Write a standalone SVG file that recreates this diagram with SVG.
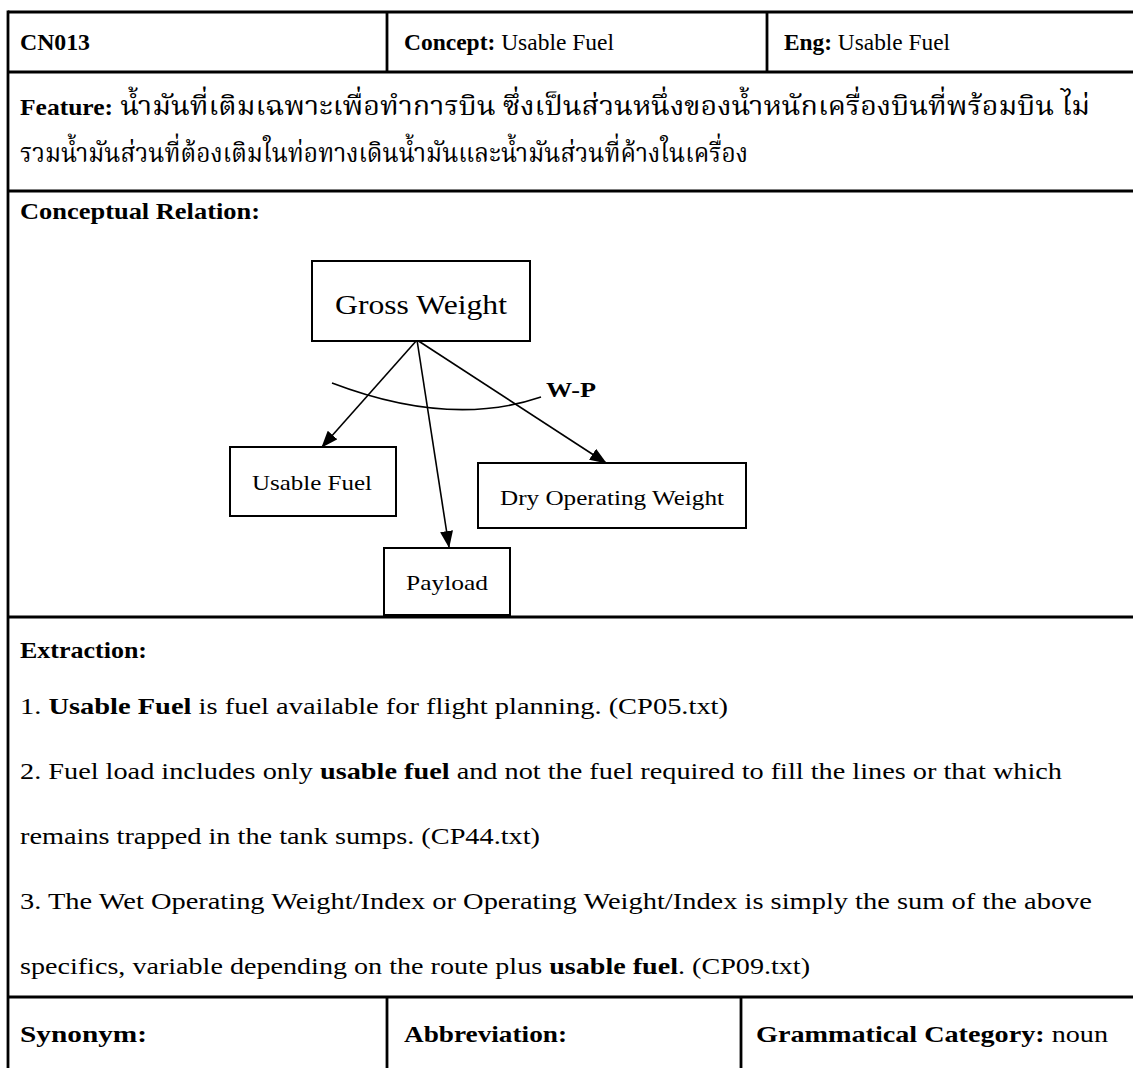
<svg xmlns="http://www.w3.org/2000/svg" width="1133" height="1068" viewBox="0 0 1133 1068">
  <style>
    .t { font-family: "Liberation Serif", "Times New Roman", Tinos, serif; font-size: 24px; fill: #000; }
    .th { font-family: "Liberation Serif", "Noto Serif Thai", "Noto Sans Thai", "Tlwg Typo", "Garuda", serif; font-size: 27px; fill: #000; }
    .b { font-weight: bold; }
    .rule { stroke: #000; stroke-width: 2.8; fill: none; }
    .box { fill: #fff; stroke: #000; stroke-width: 2; }
    .lbl { font-family: "Liberation Serif", "Times New Roman", Tinos, serif; fill: #000; text-anchor: middle; }
    .edge { stroke: #000; stroke-width: 1.6; fill: none; }
  </style>
  <defs>
    <marker id="arrow" markerUnits="userSpaceOnUse" markerWidth="17" markerHeight="13" refX="16" refY="6.5" orient="auto">
      <path d="M0,0 L17,6.5 L0,13 z" fill="#000"/>
    </marker>
  </defs>

  <rect width="1133" height="1068" fill="#fff"/>

  <!-- table frame -->
  <g id="table">
    <line class="rule" x1="8" y1="12" x2="1133" y2="12"/>
    <line class="rule" x1="8" y1="72" x2="1133" y2="72"/>
    <line class="rule" x1="8" y1="191" x2="1133" y2="191"/>
    <line class="rule" x1="8" y1="617" x2="1133" y2="617"/>
    <line class="rule" x1="8" y1="997" x2="1133" y2="997"/>
    <line class="rule" x1="8" y1="10.6" x2="8" y2="1068"/>
    <line class="rule" x1="387" y1="12" x2="387" y2="72"/>
    <line class="rule" x1="767" y1="12" x2="767" y2="72"/>
    <line class="rule" x1="387" y1="997" x2="387" y2="1068"/>
    <line class="rule" x1="741" y1="997" x2="741" y2="1068"/>
  </g>

  <!-- header row -->
  <g id="header">
    <text class="t b" x="20" y="50" textLength="70" lengthAdjust="spacingAndGlyphs">CN013</text>
    <text class="t" x="404" y="50" textLength="210" lengthAdjust="spacingAndGlyphs"><tspan class="b">Concept:</tspan> Usable Fuel</text>
    <text class="t" x="784" y="50" textLength="166" lengthAdjust="spacingAndGlyphs"><tspan class="b">Eng:</tspan> Usable Fuel</text>
  </g>

  <!-- feature row -->
  <g id="feature">
    <text class="th" x="20" y="115" textLength="1070" lengthAdjust="spacingAndGlyphs"><tspan class="t b">Feature:</tspan> น้ำมันที่เติมเฉพาะเพื่อทำการบิน ซึ่งเป็นส่วนหนึ่งของน้ำหนักเครื่องบินที่พร้อมบิน ไม่</text>
    <text class="th" x="20" y="162" textLength="728" lengthAdjust="spacingAndGlyphs">รวมน้ำมันส่วนที่ต้องเติมในท่อทางเดินน้ำมันและน้ำมันส่วนที่ค้างในเครื่อง</text>
  </g>

  <text class="t b" x="20" y="219" textLength="240" lengthAdjust="spacingAndGlyphs">Conceptual Relation:</text>

  <!-- relation graph -->
  <g id="connectors">
    <path class="edge" d="M332,383 Q450,428 541,397"/>
    <line class="edge" x1="417" y1="340" x2="322" y2="447" marker-end="url(#arrow)"/>
    <line class="edge" x1="417" y1="340" x2="449" y2="547" marker-end="url(#arrow)"/>
    <line class="edge" x1="417" y1="340" x2="606" y2="463" marker-end="url(#arrow)"/>
    <text class="t b" x="546" y="397" textLength="50" lengthAdjust="spacingAndGlyphs" style="font-size:20px">W-P</text>
  </g>

  <g id="gross-weight">
    <rect class="box" x="312" y="261" width="218" height="80"/>
    <text class="lbl" x="421" y="314" font-size="27" textLength="172" lengthAdjust="spacingAndGlyphs">Gross Weight</text>
  </g>

  <g id="usable-fuel">
    <rect class="box" x="230" y="447" width="166" height="69"/>
    <text class="lbl" x="312" y="490" font-size="21" textLength="120" lengthAdjust="spacingAndGlyphs">Usable Fuel</text>
  </g>

  <g id="dry-operating-weight">
    <rect class="box" x="478" y="463" width="268" height="65"/>
    <text class="lbl" x="612" y="505" font-size="21" textLength="224" lengthAdjust="spacingAndGlyphs">Dry Operating Weight</text>
  </g>

  <g id="payload">
    <rect class="box" x="384" y="548" width="126" height="67"/>
    <text class="lbl" x="447" y="590" font-size="21" textLength="82" lengthAdjust="spacingAndGlyphs">Payload</text>
  </g>

  <!-- extraction row -->
  <g id="extraction">
    <text class="t b" x="20" y="658" textLength="127" lengthAdjust="spacingAndGlyphs">Extraction:</text>
    <text class="t" x="20" y="714" textLength="708" lengthAdjust="spacingAndGlyphs">1. <tspan class="b">Usable Fuel</tspan> is fuel available for flight planning. (CP05.txt)</text>
    <text class="t" x="20" y="779" textLength="1042" lengthAdjust="spacingAndGlyphs">2. Fuel load includes only <tspan class="b">usable fuel</tspan> and not the fuel required to fill the lines or that which</text>
    <text class="t" x="20" y="844" textLength="520" lengthAdjust="spacingAndGlyphs">remains trapped in the tank sumps. (CP44.txt)</text>
    <text class="t" x="20" y="909" textLength="1072" lengthAdjust="spacingAndGlyphs">3. The Wet Operating Weight/Index or Operating Weight/Index is simply the sum of the above</text>
    <text class="t" x="20" y="974" textLength="790" lengthAdjust="spacingAndGlyphs">specifics, variable depending on the route plus <tspan class="b">usable fuel</tspan>. (CP09.txt)</text>
  </g>

  <!-- bottom row -->
  <g id="footer">
    <text class="t b" x="20" y="1042" textLength="127" lengthAdjust="spacingAndGlyphs">Synonym:</text>
    <text class="t b" x="404" y="1042" textLength="163" lengthAdjust="spacingAndGlyphs">Abbreviation:</text>
    <text class="t" x="756" y="1042" textLength="352" lengthAdjust="spacingAndGlyphs"><tspan class="b">Grammatical Category:</tspan> noun</text>
  </g>
</svg>
